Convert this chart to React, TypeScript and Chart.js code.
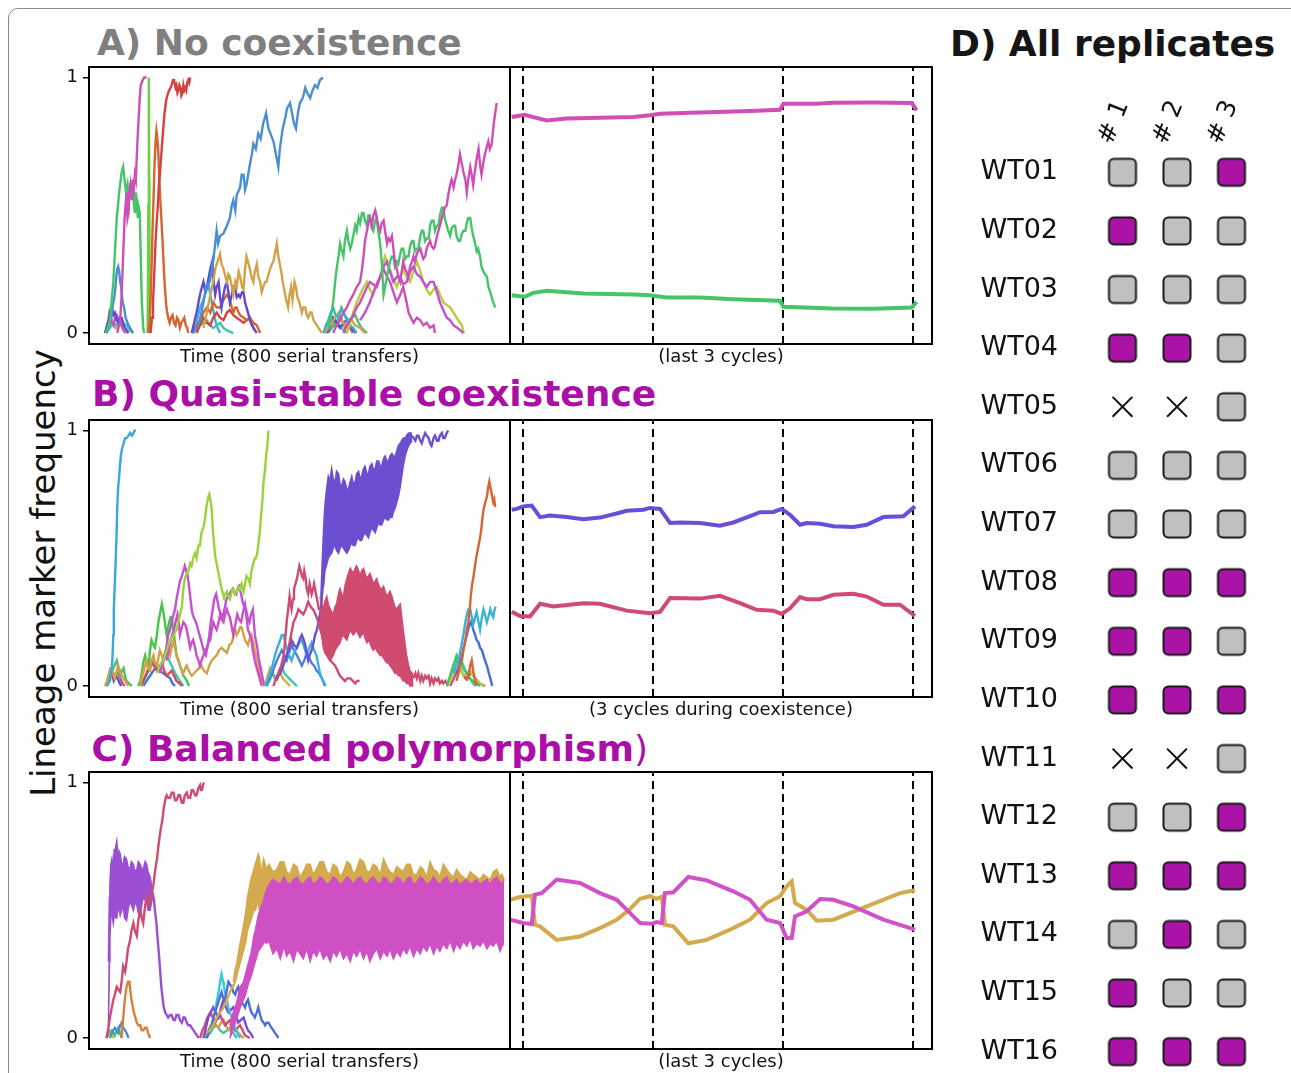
import React, { useEffect, useRef } from 'react';
import { Chart, registerables } from 'chart.js';
Chart.register(...registerables);

type P = [number, number];
const FONT = "'DejaVu Sans', sans-serif";

// ---------- axis ranges / ticks ----------
const Y_MIN = -0.043;
const Y_MAX = 1.041;
const Y_TICKS = [0, 1];
const T_MIN = -32.7;
const T_MAX = 827.2;
const C_MIN = -0.1;
const C_MAX = 3.146;
const CYCLE_MARKS = [0, 1, 2, 3];

// ---------- colours ----------
const GREEN = '#45c46a', PINK = '#cf4fb6', BLUE = '#4b8fd1', RED = '#d2433f', ORANGE = '#d8652f',
  GOLD = '#d2a24b', PURPLE = '#5e4bd2', YGREEN = '#bccb3c', LIME = '#9bd13e', CYAN = '#3cb1d8',
  CRIMSON = '#cf4b6f', ORCHID = '#c152d3', DORCHID = '#9a4fd4', TEAL = '#3cc8ac', BPURPLE = '#6c4fd0',
  CPINK = '#cf50c4', CGOLD = '#d3aa4d', MAG = '#aa10a6';

// ================= Panel A (no coexistence) =================
const A_green1: P[] = [[2,0],[10,0.05],[17,0.2],[24,0.45],[29,0.55],[34,0.63],[37,0.65],[40,0.6],[43,0.55],[46,0.58],[48,0.53],[51,0.57],[54,0.55],[57,0.6],[59,0.5],[61,0.47],[63,0.55],[65,0.52],[67,0.45],[69,0.49],[71,0.47],[73,0.3],[75,0.13],[78,0.02],[80,0]];
const A_green2: P[] = [[87,0],[88.5,0.5],[89.5,1.0],[90.2,0.6],[90.8,0]];
const A_pink1: P[] = [[25,0],[31,0.05],[34,0.15],[36,0.25],[38,0.35],[40,0.45],[42,0.5],[44,0.55],[46,0.45],[48,0.47],[50,0.55],[52,0.58],[55,0.52],[57,0.6],[59,0.57],[61,0.62],[63,0.6],[65,0.7],[67,0.78],[69,0.85],[71,0.92],[73,0.97],[75,0.98],[77,0.99],[80,1.0],[85,1.0]];
const A_blue1: P[] = [[3,0],[9,0.04],[14,0.08],[17,0.12],[20,0.15],[23,0.22],[25,0.25],[27,0.26],[29,0.24],[31,0.2],[33,0.18],[36,0.12],[39,0.1],[42,0.06],[44,0.05],[48,0.03],[51,0.02],[57,0]];
const A_purple1: P[] = [[0,0],[4,0.03],[7,0.05],[10,0.09],[14,0.1],[17,0.07],[20,0.08],[24,0.05],[27,0.04],[31,0.06],[34,0.06],[38,0.03],[41,0.02],[48,0]];
const A_orchid1: P[] = [[2,0],[6,0.04],[10,0.06],[14,0.04],[17,0.03],[21,0.06],[24,0.07],[28,0.05],[32,0.04],[36,0.02],[41,0]];
const A_teal1: P[] = [[3,0],[10,0.02],[17,0.04],[24,0.03],[31,0.06],[37,0.04],[44,0.03],[51,0.01],[58,0]];
const A_gold1: P[] = [[1,0],[8,0.03],[15,0.05],[22,0.02],[30,0.04],[38,0.01],[45,0]];
const A_red1: P[] = [[93,0],[96,0.06],[98,0.12],[101,0.25],[103,0.35],[106,0.45],[108,0.5],[110,0.58],[112,0.62],[115,0.7],[117,0.75],[119,0.8],[121,0.85],[124,0.9],[126,0.92],[129,0.94],[131,0.95],[134,0.96],[136,0.97],[139,0.99],[141,0.99],[144,0.96],[146,0.97],[148,0.94],[150,0.95],[152,0.97],[154,0.96],[156,0.93],[158,0.94],[160,0.97],[162,0.95],[164,0.96],[166,0.95],[168,0.98],[170,0.99],[172,0.98],[174,1.0]];
const A_orange1: P[] = [[88,0],[91,0.04],[93,0.12],[95,0.25],[97,0.4],[99,0.52],[101,0.65],[103,0.74],[105,0.79],[107,0.76],[109,0.7],[111,0.6],[113,0.52],[115,0.45],[117,0.38],[119,0.3],[121,0.22],[123,0.16],[125,0.11],[127,0.08],[129,0.06],[132,0.04],[135,0.06],[138,0.07],[141,0.04],[144,0.03],[147,0.06],[150,0.05],[153,0.02],[156,0.04],[159,0.05],[162,0.06],[165,0.03],[168,0.02],[170,0]];
const A_blue2: P[] = [[180,0],[187,0.02],[194,0.05],[201,0.12],[208,0.19],[214,0.2],[221,0.28],[228,0.4],[231,0.35],[235,0.38],[242,0.39],[249,0.42],[255,0.45],[259,0.5],[262,0.52],[266,0.48],[269,0.54],[276,0.57],[279,0.62],[283,0.62],[286,0.56],[289,0.58],[295,0.65],[300,0.7],[303,0.74],[308,0.72],[313,0.78],[318,0.76],[323,0.82],[329,0.86],[334,0.8],[338,0.78],[344,0.75],[349,0.7],[354,0.65],[357,0.72],[363,0.8],[368,0.84],[372,0.88],[378,0.9],[382,0.86],[386,0.82],[390,0.8],[394,0.86],[398,0.9],[404,0.92],[409,0.96],[413,0.94],[419,0.92],[424,0.95],[429,0.97],[434,0.96],[439,0.99],[445,1.0]];
const A_gold2: P[] = [[201,0.02],[208,0.08],[215,0.15],[221,0.2],[225,0.25],[230,0.28],[235,0.31],[238,0.27],[242,0.25],[246,0.22],[249,0.2],[252,0.23],[255,0.22],[259,0.18],[262,0.15],[266,0.2],[269,0.18],[273,0.24],[276,0.22],[280,0.18],[283,0.17],[286,0.25],[289,0.3],[292,0.28],[296,0.25],[299,0.22],[303,0.2],[306,0.24],[310,0.27],[313,0.22],[317,0.2],[320,0.16],[323,0.18],[327,0.2],[330,0.2],[334,0.23],[337,0.25],[341,0.27],[344,0.28],[348,0.32],[351,0.35],[354,0.3],[356,0.28],[360,0.24],[363,0.2],[367,0.16],[370,0.13],[374,0.1],[377,0.15],[380,0.18],[383,0.13],[387,0.2],[390,0.18],[393,0.14],[397,0.12],[402,0.08],[405,0.1],[409,0.1],[412,0.07],[415,0.06],[419,0.08],[422,0.08],[426,0.05],[429,0.04],[433,0.03],[436,0.02],[443,0]];
const A_purple2: P[] = [[177,0],[182,0.04],[187,0.08],[191,0.12],[194,0.15],[198,0.18],[201,0.2],[205,0.16],[208,0.18],[212,0.22],[215,0.25],[219,0.28],[222,0.2],[225,0.15],[228,0.18],[232,0.2],[235,0.14],[238,0.1],[242,0.15],[245,0.18],[249,0.2],[252,0.16],[255,0.12],[259,0.15],[262,0.18],[266,0.17],[269,0.14],[273,0.15],[276,0.14],[280,0.16],[283,0.16],[286,0.12],[289,0.1],[292,0.08],[296,0.05],[300,0.03],[303,0.02],[310,0]];
const A_orange2: P[] = [[180,0],[187,0.03],[194,0.05],[201,0.08],[208,0.1],[215,0.08],[221,0.12],[228,0.1],[235,0.1],[242,0.13],[249,0.15],[255,0.13],[259,0.1],[262,0.08],[266,0.1],[269,0.1],[273,0.08],[276,0.07],[283,0.06],[289,0.05],[296,0.06],[303,0.04],[310,0.03],[317,0]];
const A_red2: P[] = [[187,0],[194,0.03],[201,0.06],[208,0.04],[215,0.03],[221,0.06],[228,0.08],[235,0.06],[242,0.05],[249,0.08],[255,0.09],[262,0.07],[269,0.06],[276,0.05],[283,0.04],[289,0.05],[296,0.06],[301,0.03],[306,0.01]];
const A_teal2: P[] = [[177,0],[185,0.02],[194,0.03],[201,0.04],[208,0.05],[215,0.03],[221,0.02],[228,0.03],[235,0.04],[242,0.02],[249,0.01],[262,0]];
const A_cyan2: P[] = [[180,0],[187,0.04],[194,0.1],[199,0.12],[204,0.15],[208,0.17],[211,0.2],[214,0.16],[218,0.12],[222,0.08],[225,0.05],[230,0.02],[235,0]];
const A_green3: P[] = [[456,0.02],[461,0.06],[466,0.12],[470,0.2],[473,0.25],[477,0.3],[480,0.35],[484,0.32],[487,0.3],[490,0.36],[494,0.4],[497,0.36],[501,0.33],[504,0.35],[507,0.38],[511,0.42],[514,0.4],[518,0.45],[521,0.43],[525,0.47],[528,0.47],[531,0.44],[535,0.42],[538,0.46],[541,0.46],[545,0.41],[548,0.4],[552,0.44],[555,0.45],[558,0.4],[562,0.35],[565,0.28],[569,0.15],[572,0.18],[576,0.22],[579,0.25],[582,0.28],[586,0.3],[589,0.3],[592,0.26],[596,0.28],[599,0.27],[603,0.31],[606,0.33],[609,0.33],[613,0.29],[616,0.3],[620,0.3],[623,0.34],[627,0.36],[630,0.36],[633,0.32],[637,0.33],[640,0.33],[644,0.38],[647,0.4],[650,0.4],[654,0.36],[657,0.37],[661,0.37],[664,0.42],[667,0.44],[671,0.44],[674,0.4],[678,0.42],[681,0.42],[684,0.46],[688,0.49],[691,0.49],[694,0.45],[698,0.42],[701,0.4],[705,0.38],[708,0.41],[712,0.42],[715,0.42],[718,0.38],[722,0.36],[725,0.36],[729,0.39],[732,0.4],[736,0.4],[739,0.43],[742,0.45],[746,0.45],[749,0.41],[752,0.38],[756,0.35],[759,0.32],[762,0.33],[766,0.3],[769,0.26],[773,0.24],[776,0.23],[780,0.22],[783,0.18],[787,0.16],[790,0.14],[793,0.12],[797,0.1]];
const A_pink3: P[] = [[466,0],[473,0.03],[480,0.05],[487,0.08],[494,0.1],[501,0.13],[507,0.15],[514,0.18],[521,0.2],[525,0.25],[528,0.3],[531,0.36],[535,0.4],[538,0.43],[541,0.45],[545,0.42],[548,0.46],[552,0.48],[555,0.45],[558,0.42],[562,0.4],[565,0.43],[569,0.44],[572,0.4],[576,0.35],[579,0.37],[582,0.36],[586,0.38],[589,0.33],[592,0.28],[596,0.25],[599,0.22],[603,0.2],[606,0.24],[609,0.28],[613,0.25],[616,0.24],[620,0.22],[623,0.26],[627,0.28],[630,0.3],[633,0.28],[637,0.31],[640,0.32],[644,0.33],[647,0.31],[650,0.29],[654,0.3],[657,0.33],[661,0.35],[664,0.36],[667,0.34],[671,0.33],[674,0.34],[678,0.38],[681,0.4],[684,0.42],[688,0.45],[691,0.47],[694,0.49],[698,0.5],[701,0.54],[705,0.58],[708,0.6],[712,0.57],[715,0.6],[718,0.62],[722,0.66],[725,0.7],[729,0.66],[732,0.63],[736,0.6],[739,0.55],[742,0.6],[746,0.65],[749,0.62],[752,0.58],[756,0.64],[759,0.68],[763,0.72],[766,0.66],[769,0.62],[773,0.67],[776,0.7],[780,0.73],[783,0.75],[786,0.72],[790,0.74],[794,0.82],[797,0.86],[800,0.9]];
const A_pink4: P[] = [[487,0],[494,0.03],[501,0.05],[507,0.07],[514,0.1],[521,0.12],[528,0.15],[535,0.18],[541,0.2],[548,0.19],[555,0.18],[562,0.22],[569,0.25],[576,0.22],[582,0.2],[589,0.16],[596,0.12],[603,0.15],[609,0.18],[616,0.12],[620,0.08],[625,0.06],[630,0.04],[637,0.06],[644,0.05],[650,0.03],[657,0.04],[664,0.02],[671,0.03],[674,0]];
const A_pink5: P[] = [[521,0.05],[531,0.08],[541,0.12],[552,0.18],[562,0.22],[569,0.26],[576,0.28],[582,0.24],[589,0.2],[596,0.22],[603,0.22],[609,0.19],[616,0.2],[623,0.24],[630,0.26],[637,0.23],[644,0.22],[650,0.2],[657,0.18],[664,0.2],[671,0.2],[678,0.16],[684,0.12],[691,0.09],[698,0.06],[705,0.05],[712,0.03],[720,0.02],[732,0]];
const A_ygreen: P[] = [[494,0],[501,0.04],[507,0.08],[514,0.12],[521,0.15],[528,0.18],[535,0.2],[541,0.17],[548,0.15],[555,0.19],[562,0.22],[569,0.28],[572,0.3],[576,0.27],[582,0.25],[589,0.21],[596,0.18],[603,0.22],[609,0.25],[616,0.22],[623,0.2],[630,0.24],[637,0.28],[644,0.24],[650,0.2],[657,0.17],[664,0.15],[671,0.17],[678,0.18],[684,0.15],[691,0.12],[698,0.11],[705,0.1],[712,0.08],[718,0.06],[725,0.04],[729,0.03],[733,0]];
const A_small1: P[] = [[446,0],[451,0.03],[456,0.05],[461,0.08],[466,0.1],[471,0.07],[477,0.06],[482,0.09],[487,0.08],[494,0.05],[501,0.03],[507,0.02],[514,0]];
const A_small2: P[] = [[449,0],[456,0.02],[463,0.04],[470,0.06],[477,0.08],[483,0.05],[490,0.03],[497,0.05],[504,0.05],[511,0.03],[521,0.02],[531,0]];
const A_small3: P[] = [[453,0],[460,0.03],[466,0.06],[473,0.04],[480,0.02],[487,0.04],[494,0.05],[501,0.03],[507,0.01],[512,0]];
const A_small4: P[] = [[456,0],[463,0.02],[470,0.03],[477,0.06],[483,0.1],[490,0.07],[497,0.05],[504,0.06],[511,0.07],[518,0.04],[524,0.02],[535,0]];
const A_small5: P[] = [[450,0],[458,0.02],[466,0.05],[474,0.03],[482,0.06],[490,0.02],[498,0.03],[506,0]];
const A_small6: P[] = [[447,0],[455,0.04],[463,0.02],[471,0.05],[479,0.03],[487,0.01],[495,0]];

const A_R_pink: P[] = [[-0.087,0.845],[0.015,0.854],[0.079,0.845],[0.182,0.832],[0.336,0.839],[0.592,0.842],[0.849,0.845],[0.977,0.852],[1.054,0.858],[1.233,0.861],[1.49,0.865],[1.746,0.869],[1.977,0.874],[2.003,0.897],[2.259,0.897],[2.387,0.901],[2.695,0.902],[2.99,0.9],[3.028,0.871]];
const A_R_green: P[] = [[-0.087,0.148],[0.015,0.142],[0.079,0.157],[0.182,0.165],[0.464,0.155],[0.849,0.151],[0.977,0.148],[1.105,0.139],[1.362,0.139],[1.618,0.132],[1.977,0.126],[2.003,0.103],[2.387,0.096],[2.695,0.095],[2.99,0.1],[3.028,0.122]];

// ================= Panel B (quasi-stable coexistence) =================
const B_cyan1: P[] = [[3,0],[7,0.01],[10,0.02],[13,0.06],[15,0.1],[17,0.2],[18,0.3],[20,0.4],[22,0.5],[24,0.62],[25,0.7],[27,0.78],[29,0.82],[31,0.88],[32,0.9],[35,0.93],[38,0.95],[41,0.97],[44,0.97],[48,0.98],[51,0.99],[55,0.98],[58,0.99],[61,1.0],[63,1.0]];
const B_e1: P[] = [[0,0],[4,0.02],[7,0.04],[10,0.06],[14,0.07],[17,0.05],[20,0.03],[24,0.06],[27,0.08],[31,0.06],[34,0.04],[38,0.03],[41,0.02],[48,0]];
const B_e2: P[] = [[3,0],[8,0.02],[14,0.05],[19,0.08],[24,0.1],[28,0.06],[31,0.04],[35,0.06],[38,0.07],[42,0.03],[44,0.02],[55,0]];
const B_e3: P[] = [[2,0],[6,0.03],[10,0.06],[14,0.04],[18,0.03],[22,0.05],[27,0.05],[31,0.03],[36,0.01],[40,0]];
const B_e4: P[] = [[4,0],[9,0.03],[13,0.05],[18,0.02],[23,0.04],[28,0.02],[33,0]];
const B_green: P[] = [[68,0],[72,0.02],[75,0.05],[78,0.09],[82,0.12],[85,0.1],[89,0.08],[92,0.14],[95,0.18],[99,0.16],[102,0.15],[106,0.2],[109,0.25],[112,0.28],[116,0.32],[118,0.3],[120,0.28],[123,0.24],[126,0.2],[129,0.23],[131,0.25],[134,0.27],[136,0.27],[139,0.23],[141,0.2],[144,0.15],[146,0.12],[150,0.1],[153,0.08],[157,0.06],[160,0.04],[164,0.03],[167,0.02],[172,0]];
const B_lime: P[] = [[106,0.05],[112,0.08],[119,0.1],[126,0.14],[133,0.18],[140,0.2],[146,0.22],[150,0.25],[153,0.28],[157,0.31],[160,0.38],[163,0.42],[167,0.44],[170,0.45],[174,0.48],[177,0.47],[180,0.5],[184,0.52],[187,0.5],[191,0.55],[194,0.55],[197,0.6],[201,0.62],[204,0.65],[207,0.7],[209,0.72],[211,0.74],[213,0.75],[216,0.72],[218,0.69],[220,0.62],[223,0.55],[225,0.51],[228,0.48],[231,0.45],[233,0.43],[236,0.4],[238,0.38],[241,0.36],[243,0.35],[246,0.36],[249,0.37],[252,0.35],[255,0.34],[259,0.37],[262,0.38],[265,0.36],[269,0.37],[272,0.39],[276,0.38],[279,0.4],[283,0.37],[286,0.4],[289,0.43],[293,0.42],[296,0.4],[299,0.45],[303,0.48],[306,0.5],[308,0.5],[311,0.52],[313,0.55],[316,0.6],[318,0.65],[320,0.69],[322,0.74],[323,0.78],[325,0.82],[327,0.85],[329,0.9],[331,0.93],[334,1.0]];
const B_orchid1: P[] = [[112,0.05],[118,0.09],[123,0.12],[126,0.16],[129,0.2],[133,0.22],[136,0.25],[140,0.28],[143,0.3],[146,0.34],[150,0.38],[153,0.41],[157,0.43],[160,0.45],[163,0.47],[166,0.45],[168,0.44],[171,0.4],[174,0.35],[177,0.3],[179,0.28],[183,0.26],[186,0.25],[190,0.22],[193,0.2],[196,0.18],[200,0.15],[203,0.13],[206,0.12],[210,0.16],[213,0.2],[216,0.25],[220,0.3],[223,0.34],[227,0.36],[230,0.33],[233,0.3],[237,0.28],[240,0.27],[244,0.3],[247,0.33],[250,0.35],[254,0.36],[257,0.37],[261,0.38],[264,0.37],[268,0.36],[271,0.38],[274,0.39],[278,0.36],[281,0.33],[284,0.31],[288,0.3],[291,0.27],[295,0.25],[298,0.28],[302,0.3],[304,0.25],[306,0.2],[309,0.17],[311,0.15],[314,0.11],[317,0.08],[320,0.05],[323,0.02],[327,0]];
const B_orchid2: P[] = [[126,0.1],[130,0.14],[134,0.18],[137,0.2],[141,0.22],[144,0.25],[148,0.28],[151,0.24],[153,0.2],[157,0.23],[160,0.25],[164,0.24],[167,0.22],[171,0.18],[174,0.15],[177,0.17],[180,0.18],[184,0.15],[187,0.12],[191,0.1],[194,0.08],[197,0.1],[201,0.12],[204,0.14],[208,0.15],[211,0.17],[215,0.18],[218,0.22],[221,0.25],[225,0.23],[228,0.22],[232,0.25],[235,0.28],[238,0.26],[242,0.25],[245,0.28],[249,0.3],[252,0.28],[255,0.27],[259,0.23],[262,0.2],[266,0.24],[270,0.28],[274,0.26],[278,0.25],[282,0.29],[286,0.32],[289,0.27],[292,0.22],[296,0.2],[299,0.18],[302,0.14],[306,0.1],[310,0.07],[313,0.05],[317,0.02],[320,0]];
const B_gold: P[] = [[72,0],[75,0.03],[78,0.05],[82,0.08],[85,0.1],[88,0.07],[92,0.06],[95,0.1],[99,0.12],[102,0.09],[106,0.08],[109,0.11],[112,0.14],[116,0.12],[119,0.1],[122,0.13],[126,0.15],[129,0.14],[133,0.12],[136,0.15],[140,0.18],[143,0.15],[146,0.12],[150,0.1],[153,0.08],[157,0.06],[160,0.05],[164,0.07],[167,0.08],[171,0.06],[177,0.04],[182,0.05],[187,0.06],[192,0.07],[197,0.08],[202,0.06],[208,0.05],[213,0.08],[218,0.1],[223,0.11],[228,0.12],[233,0.14],[238,0.15],[243,0.14],[249,0.13],[254,0.16],[259,0.17],[263,0.2],[266,0.22],[269,0.2],[272,0.21],[276,0.23],[279,0.23],[283,0.2],[286,0.18],[289,0.17],[292,0.16],[296,0.19],[299,0.2],[303,0.17],[306,0.14],[310,0.11],[313,0.08],[317,0.05],[320,0.03],[325,0]];
const B_red1: P[] = [[72,0],[78,0.02],[85,0.05],[90,0.08],[95,0.1],[100,0.08],[106,0.06],[111,0.08],[116,0.09],[121,0.06],[126,0.04],[131,0.05],[136,0.06],[141,0.04],[146,0.02],[152,0.01],[157,0]];
const B_teal1: P[] = [[75,0],[82,0.03],[89,0.06],[95,0.08],[99,0.1],[105,0.08],[112,0.07],[118,0.1],[126,0.12],[131,0.1],[136,0.08],[141,0.06],[146,0.04],[153,0.02],[160,0]];
const B_blue1: P[] = [[78,0],[85,0.02],[92,0.04],[99,0.06],[106,0.08],[112,0.06],[119,0.05],[126,0.04],[133,0.03],[138,0.01],[143,0]];
const B_cyan2: P[] = [[327,0],[332,0.02],[337,0.05],[342,0.08],[347,0.12],[352,0.15],[358,0.18],[361,0.2],[365,0.2],[368,0.17],[371,0.15],[376,0.12],[381,0.1],[386,0.13],[392,0.15],[397,0.17],[402,0.18],[407,0.15],[412,0.12],[417,0.15],[422,0.17],[427,0.14],[432,0.12],[436,0.08],[439,0.05],[443,0.03],[446,0.02],[451,0]];
const B_blue2: P[] = [[330,0],[335,0.02],[340,0.04],[345,0.07],[351,0.1],[356,0.12],[361,0.14],[366,0.12],[371,0.1],[376,0.13],[381,0.16],[386,0.14],[392,0.12],[397,0.1],[402,0.08],[407,0.1],[412,0.13],[417,0.11],[422,0.09],[427,0.08],[432,0.06],[437,0.05],[443,0.03],[449,0]];
const B_purple2: P[] = [[350,0.02],[354,0.04],[358,0.05],[364,0.08],[371,0.12],[376,0.15],[381,0.18],[386,0.16],[392,0.15],[397,0.18],[402,0.2],[406,0.18],[409,0.16],[412,0.13],[415,0.1],[418,0.12],[422,0.14],[426,0.17],[429,0.2],[433,0.22],[436,0.25],[439,0.28],[441,0.3]];
const B_teal2: P[] = [[330,0],[335,0.03],[340,0.06],[345,0.04],[351,0.03],[356,0.06],[361,0.08],[366,0.05],[371,0.04],[376,0.03],[381,0.02],[392,0]];
const B_gold2: P[] = [[327,0],[332,0.04],[337,0.07],[342,0.05],[347,0.03],[352,0.04],[358,0.05],[363,0.03],[368,0.02],[378,0]];
const B_crimson1: P[] = [[344,0],[349,0.03],[354,0.05],[360,0.08],[365,0.12],[368,0.18],[371,0.25],[374,0.3],[377,0.35],[379,0.32],[381,0.3],[384,0.34],[386,0.38],[389,0.4],[392,0.42],[395,0.45],[397,0.47],[400,0.45],[402,0.43],[405,0.42],[407,0.45],[410,0.42],[412,0.38],[415,0.36],[418,0.4],[420,0.38],[422,0.36],[425,0.38],[427,0.4],[430,0.37],[432,0.35],[435,0.32],[437,0.3],[439,0.3]];
const B_crimson2: P[] = [[375,0.15],[380,0.2],[385,0.25],[390,0.27],[395,0.3],[400,0.29],[405,0.28],[410,0.3],[415,0.33],[420,0.31],[425,0.3],[430,0.28],[436,0.25],[440,0.22],[443,0.2],[446,0.17],[449,0.15],[454,0.12],[460,0.1],[465,0.09],[470,0.08],[475,0.06],[480,0.04],[485,0.03],[490,0.02],[495,0.03],[501,0.03],[506,0.02],[511,0.01],[515,0.02],[520,0.02]];
const B_crimsonBandHi: P[] = [[439,0.35],[443,0.32],[446,0.3],[449,0.33],[453,0.35],[456,0.32],[460,0.3],[463,0.29],[466,0.28],[470,0.31],[473,0.32],[477,0.36],[480,0.38],[483,0.36],[487,0.35],[490,0.39],[494,0.42],[497,0.44],[501,0.46],[504,0.45],[507,0.44],[511,0.46],[514,0.47],[518,0.45],[521,0.43],[524,0.45],[528,0.46],[531,0.44],[535,0.42],[538,0.43],[541,0.44],[545,0.42],[548,0.4],[552,0.41],[555,0.42],[558,0.4],[562,0.38],[565,0.38],[569,0.39],[572,0.37],[576,0.35],[579,0.36],[582,0.37],[586,0.35],[589,0.33],[592,0.31],[596,0.3],[599,0.31],[603,0.32],[606,0.27],[609,0.22],[613,0.16],[616,0.12],[620,0.08],[623,0.06],[627,0.05],[630,0.04]];
const B_crimsonBandLo: P[] = [[439,0.25],[443,0.2],[446,0.15],[449,0.13],[453,0.12],[456,0.11],[460,0.1],[463,0.11],[466,0.12],[470,0.14],[473,0.15],[477,0.16],[480,0.17],[483,0.19],[487,0.2],[490,0.19],[494,0.18],[497,0.2],[501,0.22],[504,0.21],[507,0.2],[511,0.21],[514,0.22],[518,0.2],[521,0.19],[524,0.2],[528,0.21],[531,0.19],[535,0.17],[538,0.18],[541,0.17],[545,0.15],[548,0.14],[552,0.15],[555,0.14],[558,0.13],[562,0.12],[565,0.12],[569,0.11],[572,0.1],[576,0.09],[579,0.09],[582,0.08],[586,0.07],[589,0.06],[592,0.05],[596,0.05],[599,0.04],[603,0.04],[606,0.03],[609,0.02],[613,0.02],[616,0.01],[620,0.01],[623,0],[627,0],[630,0]];
const B_crimsonTail: P[] = [[630,0.03],[634,0.05],[637,0.03],[640,0.05],[644,0.02],[647,0.04],[650,0.02],[654,0.04],[657,0.03],[661,0.04],[664,0.01],[667,0.03],[671,0.01],[674,0.03],[678,0.02],[681,0.03],[684,0.01],[688,0.02],[691,0.01],[695,0.02],[701,0]];
const B_purpleBandHi: P[] = [[441,0.35],[443,0.45],[445,0.55],[447,0.63],[449,0.7],[452,0.76],[456,0.82],[459,0.8],[463,0.85],[466,0.81],[470,0.8],[473,0.84],[477,0.83],[480,0.79],[483,0.78],[487,0.81],[490,0.8],[494,0.77],[497,0.77],[501,0.8],[504,0.82],[507,0.79],[511,0.8],[514,0.83],[518,0.84],[521,0.81],[524,0.82],[528,0.85],[531,0.86],[535,0.83],[538,0.83],[541,0.86],[545,0.87],[548,0.85],[552,0.85],[555,0.88],[559,0.88],[562,0.86],[565,0.86],[569,0.89],[572,0.9],[576,0.88],[579,0.88],[582,0.9],[586,0.91],[589,0.9],[593,0.9],[596,0.92],[599,0.94],[603,0.95],[606,0.96],[609,0.97],[613,0.97],[616,0.98],[620,0.99],[623,0.99],[627,0.99]];
const B_purpleBandLo: P[] = [[441,0.3],[443,0.33],[445,0.38],[447,0.4],[449,0.45],[452,0.47],[456,0.5],[459,0.51],[463,0.52],[466,0.54],[470,0.55],[473,0.53],[477,0.52],[480,0.54],[483,0.55],[487,0.54],[490,0.53],[494,0.52],[497,0.53],[501,0.55],[504,0.56],[507,0.55],[511,0.55],[514,0.57],[518,0.58],[521,0.57],[524,0.57],[528,0.59],[531,0.6],[535,0.59],[538,0.58],[541,0.6],[545,0.62],[548,0.61],[552,0.6],[555,0.62],[559,0.64],[562,0.63],[565,0.63],[569,0.65],[572,0.66],[576,0.65],[579,0.65],[582,0.66],[586,0.66],[589,0.68],[593,0.7],[596,0.72],[599,0.74],[603,0.78],[606,0.82],[609,0.86],[613,0.9],[616,0.92],[620,0.94],[623,0.95],[627,0.96]];
const B_purpleTail: P[] = [[627,0.98],[630,0.97],[634,0.96],[637,0.98],[640,0.98],[644,0.96],[647,0.95],[650,0.97],[654,0.99],[657,0.98],[661,0.97],[664,0.95],[667,0.94],[671,0.97],[674,0.98],[678,0.96],[681,0.96],[684,0.98],[688,0.99],[691,0.97],[694,0.97],[698,0.99],[701,1.0]];
const B_orange3: P[] = [[718,0.02],[722,0.05],[725,0.08],[729,0.1],[732,0.14],[736,0.18],[739,0.22],[742,0.25],[745,0.3],[747,0.35],[750,0.4],[752,0.42],[755,0.46],[758,0.5],[760,0.52],[763,0.55],[766,0.58],[769,0.62],[771,0.66],[774,0.7],[777,0.72],[780,0.74],[782,0.77],[785,0.8],[787,0.78],[789,0.76],[791,0.74],[793,0.72],[795,0.73],[797,0.7]];
const B_cyan3: P[] = [[712,0.05],[717,0.08],[722,0.1],[727,0.15],[732,0.2],[736,0.25],[739,0.28],[742,0.3],[746,0.3],[749,0.27],[752,0.24],[756,0.27],[759,0.29],[763,0.25],[766,0.22],[769,0.26],[773,0.3],[776,0.28],[780,0.25],[783,0.27],[787,0.3],[790,0.28],[793,0.27],[796,0.3],[798,0.31]];
const B_blue3: P[] = [[718,0.05],[724,0.08],[729,0.12],[734,0.16],[739,0.2],[743,0.23],[747,0.25],[750,0.24],[752,0.22],[756,0.2],[759,0.18],[763,0.17],[766,0.15],[770,0.14],[773,0.12],[776,0.1],[780,0.08],[784,0.05],[787,0.03],[791,0]];
const B_orange4: P[] = [[739,0.02],[743,0.05],[746,0.08],[749,0.1],[752,0.06],[756,0.02],[759,0]];
const B_r1: P[] = [[698,0],[703,0.03],[708,0.06],[713,0.09],[718,0.12],[723,0.1],[729,0.08],[734,0.06],[739,0.05],[745,0.03],[752,0.02],[760,0.01],[766,0]];
const B_r2: P[] = [[701,0],[707,0.03],[712,0.05],[717,0.07],[722,0.08],[727,0.06],[732,0.04],[739,0.05],[746,0.06],[752,0.04],[759,0.02],[766,0.01],[773,0]];
const B_r3: P[] = [[705,0],[710,0.02],[715,0.04],[720,0.06],[725,0.07],[730,0.05],[736,0.03],[742,0.04],[749,0.05],[756,0.03],[766,0.01],[776,0]];
const B_r4: P[] = [[700,0],[706,0.04],[712,0.08],[718,0.1],[724,0.07],[730,0.09],[736,0.06],[742,0.04],[748,0.02],[756,0]];

const B_R_purple: P[] = [[-0.087,0.69],[-0.049,0.693],[0.003,0.703],[0.067,0.706],[0.131,0.661],[0.208,0.667],[0.336,0.661],[0.464,0.653],[0.592,0.659],[0.721,0.675],[0.797,0.686],[0.926,0.69],[0.977,0.697],[1.054,0.693],[1.131,0.638],[1.208,0.64],[1.362,0.638],[1.515,0.627],[1.618,0.64],[1.772,0.67],[1.823,0.68],[1.926,0.681],[1.99,0.693],[2.054,0.67],[2.131,0.631],[2.182,0.638],[2.285,0.635],[2.387,0.625],[2.541,0.622],[2.644,0.631],[2.772,0.661],[2.926,0.664],[3.015,0.703]];
const B_R_crimson: P[] = [[-0.087,0.291],[-0.023,0.274],[0.054,0.272],[0.131,0.322],[0.233,0.311],[0.464,0.324],[0.592,0.322],[0.797,0.295],[0.977,0.285],[1.054,0.29],[1.131,0.344],[1.362,0.342],[1.515,0.353],[1.669,0.324],[1.797,0.298],[1.926,0.295],[1.99,0.282],[2.054,0.304],[2.131,0.348],[2.182,0.34],[2.285,0.34],[2.387,0.357],[2.541,0.361],[2.644,0.35],[2.772,0.318],[2.9,0.318],[3.015,0.274]];

// ================= Panel C (balanced polymorphism) =================
const C_purpleBandHi: P[] = [[7,0.3],[9,0.55],[10,0.6],[12,0.68],[14,0.7],[16,0.66],[17,0.68],[19,0.74],[20,0.72],[22,0.75],[24,0.77],[26,0.72],[27,0.7],[29,0.73],[31,0.72],[34,0.68],[37,0.68],[40,0.71],[44,0.7],[47,0.67],[51,0.66],[54,0.69],[58,0.68],[61,0.65],[65,0.66],[68,0.69],[72,0.68],[75,0.66],[78,0.66],[82,0.69],[85,0.68],[88,0.65],[92,0.63],[95,0.6],[97,0.58]];
const C_purpleBandLo: P[] = [[7,0.05],[9,0.3],[10,0.4],[12,0.48],[14,0.5],[16,0.46],[17,0.45],[19,0.49],[20,0.5],[22,0.47],[24,0.47],[26,0.51],[27,0.53],[29,0.5],[31,0.48],[34,0.5],[37,0.52],[40,0.47],[44,0.46],[47,0.5],[51,0.54],[54,0.52],[58,0.5],[61,0.53],[65,0.52],[68,0.49],[72,0.48],[75,0.52],[78,0.55],[82,0.54],[85,0.53],[88,0.5],[92,0.5],[95,0.53],[97,0.55]];
const C_purpleTail: P[] = [[97,0.57],[100,0.54],[102,0.5],[105,0.45],[107,0.4],[110,0.33],[112,0.28],[115,0.2],[118,0.15],[120,0.12],[123,0.1],[126,0.09],[129,0.08],[133,0.09],[136,0.09],[140,0.07],[143,0.07],[146,0.09],[150,0.09],[153,0.07],[157,0.06],[160,0.08],[163,0.08],[167,0.06],[170,0.05],[174,0.05],[177,0.04],[181,0.03],[184,0.02],[188,0.01],[191,0]];
const C_crimson: P[] = [[3,0],[7,0.04],[10,0.08],[14,0.12],[17,0.15],[20,0.17],[24,0.2],[27,0.19],[31,0.18],[34,0.22],[37,0.28],[41,0.26],[44,0.3],[47,0.35],[51,0.38],[54,0.42],[58,0.45],[61,0.42],[65,0.4],[68,0.46],[72,0.5],[75,0.47],[78,0.45],[82,0.52],[85,0.55],[88,0.53],[92,0.52],[95,0.56],[99,0.6],[102,0.65],[106,0.7],[109,0.75],[111,0.78],[114,0.82],[117,0.85],[120,0.9],[122,0.92],[124,0.94],[126,0.95],[129,0.94],[133,0.94],[136,0.96],[140,0.96],[143,0.93],[146,0.93],[150,0.95],[153,0.95],[157,0.92],[160,0.92],[163,0.95],[167,0.96],[170,0.94],[174,0.94],[177,0.97],[180,0.97],[184,0.95],[187,0.95],[191,0.98],[194,0.99],[196,0.97],[198,0.97],[200,0.99],[202,1.0]];
const C_orange: P[] = [[34,0],[36,0.05],[39,0.12],[41,0.16],[44,0.2],[47,0.22],[50,0.22],[52,0.18],[54,0.15],[57,0.12],[59,0.1],[62,0.08],[65,0.06],[68,0.05],[72,0.05],[75,0.03],[78,0.03],[82,0.04],[85,0.04],[88,0.02],[92,0]];
const C_e1: P[] = [[10,0],[14,0.02],[17,0.03],[20,0.04],[24,0.03],[27,0.02],[31,0.05],[34,0.06],[37,0.04],[41,0.03],[44,0.02],[48,0]];
const C_e2: P[] = [[3,0],[7,0.02],[10,0.03],[14,0.03],[17,0.02],[20,0.01],[24,0.03],[27,0.04],[31,0.02],[34,0]];
const C_e3: P[] = [[2,0],[6,0.01],[10,0.02],[14,0.01],[18,0]];
const C_blue: P[] = [[208,0],[213,0.03],[218,0.05],[223,0.09],[228,0.12],[233,0.15],[238,0.18],[241,0.16],[245,0.15],[249,0.19],[252,0.22],[255,0.21],[259,0.2],[262,0.18],[266,0.17],[269,0.19],[272,0.2],[276,0.17],[279,0.14],[283,0.13],[286,0.12],[289,0.14],[292,0.15],[296,0.12],[299,0.1],[303,0.09],[306,0.08],[310,0.1],[313,0.12],[317,0.09],[320,0.07],[324,0.06],[327,0.05],[330,0.06],[334,0.06],[337,0.05],[340,0.04],[344,0.03],[347,0.02],[351,0.01],[354,0]];
const C_cyan: P[] = [[208,0],[213,0.03],[218,0.05],[221,0.08],[225,0.1],[228,0.14],[232,0.18],[235,0.22],[238,0.25],[241,0.22],[243,0.2],[246,0.17],[249,0.15],[252,0.12],[255,0.1],[259,0.08],[262,0.06],[266,0.04],[269,0.03],[272,0.01],[276,0]];
const C_purple2: P[] = [[201,0],[206,0.04],[211,0.08],[216,0.1],[221,0.12],[226,0.1],[232,0.08],[237,0.12],[242,0.15],[247,0.12],[252,0.1],[257,0.11],[262,0.12],[267,0.09],[272,0.06],[277,0.07],[283,0.08],[288,0.05],[292,0.03],[297,0.02],[303,0]];
const C_pink2: P[] = [[194,0],[199,0.03],[204,0.05],[209,0.08],[215,0.1],[220,0.08],[225,0.06],[230,0.08],[235,0.09],[240,0.07],[245,0.05],[250,0.06],[255,0.07],[261,0.05],[266,0.03],[271,0.04],[276,0.05],[281,0.03],[286,0.01],[296,0]];
const C_orange2: P[] = [[201,0],[206,0.02],[211,0.03],[216,0.05],[221,0.06],[227,0.05],[232,0.04],[237,0.06],[242,0.07],[247,0.05],[252,0.03],[257,0.04],[262,0.05],[267,0.03],[272,0.02],[283,0]];
const C_teal: P[] = [[204,0],[210,0.01],[215,0.02],[221,0.04],[228,0.05],[235,0.03],[242,0.02],[249,0.03],[255,0.04],[262,0.02],[269,0]];
const C_goldLead: P[] = [[208,0.02],[214,0.03],[221,0.05],[228,0.08],[235,0.1],[242,0.12],[249,0.15],[255,0.18],[260,0.2],[262,0.21]];
const C_goldBandHi: P[] = [[262,0.22],[266,0.27],[270,0.3],[274,0.35],[277,0.38],[281,0.42],[284,0.45],[288,0.5],[291,0.55],[294,0.58],[298,0.62],[301,0.64],[304,0.66],[307,0.68],[310,0.7],[313,0.72],[315,0.71],[318,0.66],[320,0.64],[322,0.68],[324,0.7],[327,0.68],[330,0.66],[335,0.68],[343,0.65],[351,0.66],[358,0.69],[365,0.69],[371,0.65],[378,0.64],[385,0.68],[392,0.67],[398,0.63],[405,0.65],[412,0.68],[419,0.68],[425,0.64],[432,0.66],[439,0.69],[446,0.69],[453,0.65],[460,0.64],[466,0.68],[473,0.67],[480,0.63],[487,0.65],[494,0.69],[501,0.68],[507,0.64],[514,0.66],[521,0.7],[528,0.69],[535,0.65],[541,0.65],[548,0.68],[555,0.67],[562,0.64],[569,0.7],[576,0.67],[582,0.65],[589,0.64],[596,0.67],[603,0.66],[609,0.65],[616,0.68],[623,0.68],[630,0.64],[637,0.64],[644,0.67],[650,0.66],[657,0.63],[664,0.69],[671,0.66],[678,0.65],[684,0.63],[691,0.68],[698,0.66],[705,0.64],[712,0.63],[718,0.66],[725,0.64],[732,0.63],[739,0.62],[746,0.65],[752,0.64],[759,0.63],[766,0.62],[773,0.64],[780,0.63],[787,0.62],[793,0.65],[800,0.66],[807,0.63],[811,0.64],[815,0.62]];
const C_goldBandLo: P[] = [[262,0.2],[266,0.22],[270,0.25],[274,0.28],[277,0.3],[281,0.33],[284,0.35],[288,0.38],[291,0.42],[294,0.44],[298,0.46],[301,0.48],[304,0.5],[307,0.5],[310,0.52],[313,0.54],[315,0.5],[318,0.45],[320,0.42],[322,0.4],[324,0.42],[327,0.4],[330,0.38],[335,0.4],[343,0.38],[351,0.41],[358,0.37],[365,0.4],[371,0.36],[378,0.39],[385,0.41],[392,0.37],[398,0.36],[405,0.4],[412,0.38],[419,0.41],[425,0.37],[432,0.39],[439,0.36],[446,0.4],[453,0.38],[460,0.41],[466,0.37],[473,0.39],[480,0.37],[487,0.4],[494,0.36],[501,0.39],[507,0.41],[514,0.37],[521,0.38],[528,0.4],[535,0.36],[541,0.39],[548,0.41],[555,0.37],[562,0.39],[569,0.36],[576,0.4],[582,0.38],[589,0.41],[596,0.37],[603,0.39],[609,0.4],[616,0.37],[623,0.38],[630,0.41],[637,0.38],[644,0.36],[650,0.4],[657,0.38],[664,0.41],[671,0.37],[678,0.39],[684,0.41],[691,0.38],[698,0.37],[705,0.4],[712,0.42],[718,0.39],[725,0.37],[732,0.41],[739,0.39],[746,0.38],[752,0.41],[759,0.4],[766,0.38],[773,0.42],[780,0.39],[787,0.37],[793,0.41],[800,0.39],[807,0.36],[811,0.4],[815,0.41]];
const C_pinkBandHi: P[] = [[255,0.05],[259,0.08],[262,0.1],[266,0.12],[269,0.14],[273,0.17],[276,0.2],[280,0.21],[283,0.22],[287,0.25],[291,0.28],[294,0.3],[298,0.33],[301,0.36],[304,0.4],[307,0.42],[310,0.45],[313,0.48],[317,0.5],[320,0.52],[324,0.54],[327,0.56],[330,0.58],[335,0.6],[343,0.62],[351,0.61],[358,0.6],[365,0.63],[371,0.61],[378,0.6],[385,0.62],[392,0.63],[398,0.61],[405,0.6],[412,0.62],[419,0.63],[425,0.6],[432,0.61],[439,0.63],[446,0.62],[453,0.6],[460,0.61],[466,0.63],[473,0.62],[480,0.6],[487,0.61],[494,0.63],[501,0.62],[507,0.6],[514,0.62],[521,0.63],[528,0.61],[535,0.6],[541,0.62],[548,0.63],[555,0.61],[562,0.6],[569,0.63],[576,0.62],[582,0.6],[589,0.61],[596,0.63],[603,0.62],[609,0.6],[616,0.62],[623,0.63],[630,0.6],[637,0.61],[644,0.63],[650,0.62],[657,0.6],[664,0.61],[671,0.63],[678,0.61],[684,0.6],[691,0.62],[698,0.63],[705,0.6],[712,0.61],[718,0.62],[725,0.6],[732,0.61],[739,0.62],[746,0.6],[752,0.61],[759,0.62],[766,0.6],[773,0.61],[780,0.62],[787,0.6],[793,0.62],[800,0.63],[807,0.61],[811,0.6],[815,0.62]];
const C_pinkBandLo: P[] = [[255,0],[259,0.02],[262,0.04],[266,0.06],[269,0.08],[273,0.1],[276,0.12],[280,0.14],[283,0.15],[287,0.17],[291,0.2],[294,0.22],[298,0.24],[301,0.26],[304,0.28],[307,0.3],[310,0.32],[313,0.34],[317,0.35],[320,0.36],[324,0.37],[327,0.38],[330,0.37],[335,0.38],[343,0.33],[351,0.35],[358,0.31],[365,0.36],[371,0.32],[378,0.34],[385,0.3],[392,0.35],[398,0.33],[405,0.31],[412,0.35],[419,0.3],[425,0.34],[432,0.32],[439,0.35],[446,0.31],[453,0.33],[460,0.3],[466,0.34],[473,0.32],[480,0.35],[487,0.31],[494,0.33],[501,0.3],[507,0.34],[514,0.32],[521,0.35],[528,0.31],[535,0.34],[541,0.3],[548,0.33],[555,0.35],[562,0.31],[569,0.34],[576,0.32],[582,0.35],[589,0.31],[596,0.34],[603,0.32],[609,0.35],[616,0.33],[623,0.36],[630,0.32],[637,0.35],[644,0.33],[650,0.36],[657,0.34],[664,0.37],[671,0.33],[678,0.36],[684,0.34],[691,0.37],[698,0.35],[705,0.38],[712,0.34],[718,0.37],[725,0.35],[732,0.38],[739,0.36],[746,0.39],[752,0.35],[759,0.37],[766,0.36],[773,0.38],[780,0.35],[787,0.37],[793,0.36],[800,0.38],[807,0.34],[811,0.36],[815,0.37]];

const C_R_gold: P[] = [[-0.1,0.541],[-0.023,0.552],[0.067,0.557],[0.092,0.443],[0.131,0.437],[0.259,0.384],[0.438,0.397],[0.592,0.43],[0.721,0.463],[0.823,0.505],[0.9,0.545],[0.977,0.555],[1.028,0.545],[1.067,0.552],[1.092,0.443],[1.156,0.437],[1.272,0.371],[1.413,0.384],[1.618,0.43],[1.746,0.463],[1.874,0.528],[1.977,0.555],[2.028,0.594],[2.067,0.613],[2.092,0.528],[2.182,0.502],[2.259,0.459],[2.387,0.463],[2.644,0.515],[2.9,0.567],[3.015,0.578]];
const C_R_pink: P[] = [[-0.1,0.463],[0.003,0.45],[0.067,0.446],[0.092,0.561],[0.144,0.567],[0.259,0.62],[0.438,0.607],[0.592,0.567],[0.721,0.541],[0.849,0.476],[0.9,0.45],[0.99,0.447],[1.028,0.454],[1.067,0.45],[1.092,0.567],[1.156,0.57],[1.272,0.63],[1.413,0.617],[1.618,0.574],[1.746,0.541],[1.874,0.463],[1.977,0.45],[2.028,0.391],[2.067,0.391],[2.092,0.476],[2.182,0.496],[2.285,0.544],[2.387,0.541],[2.541,0.515],[2.772,0.463],[3.015,0.424]];

// ================= Panel D (all replicates) =================
const ROWS = ['WT01','WT02','WT03','WT04','WT05','WT06','WT07','WT08','WT09','WT10','WT11','WT12','WT13','WT14','WT15','WT16'];
const REP_LABELS = ['# 1', '# 2', '# 3'];
const REP1 = ['g','m','g','m','x','g','g','m','m','m','x','g','m','g','m','m'];
const REP2 = ['g','g','g','m','x','g','g','m','m','m','x','g','m','m','g','m'];
const REP3 = ['m','g','g','g','g','g','g','m','g','m','g','m','m','g','g','m'];

// ---------- helpers ----------
const xy = (a: P[]) => a.map(([x, y]) => ({ x, y }));
const L = (a: P[], color: string, w = 2.4) => ({
  data: xy(a), borderColor: color, backgroundColor: color, borderWidth: w,
  pointRadius: 0, fill: false, tension: 0, clip: 0,
});
const BAND = (hi: P[], lo: P[], color: string) => [
  L(hi, color, 1.6),
  { ...L(lo, color, 1.6), fill: '-1' },
];
const dashed = (c: number) => ({
  data: [{ x: c, y: Y_MIN }, { x: c, y: Y_MAX }], borderColor: '#000', borderWidth: 2,
  borderDash: [8, 5], pointRadius: 0, fill: false, clip: 0,
});

const framePlugin = {
  id: 'frame',
  afterDraw(chart: any) {
    const { ctx, chartArea } = chart;
    const { left, top, right, bottom } = chartArea;
    ctx.save();
    ctx.strokeStyle = '#000';
    ctx.lineWidth = 2;
    ctx.strokeRect(left, top, right - left, bottom - top);
    ctx.restore();
  },
};

const noPad = (s: any) => { s.paddingTop = 0; s.paddingBottom = 0; s.paddingLeft = 0; s.paddingRight = 0; };

function panelConfig(datasets: any[], xMin: number, xMax: number, xTitle: string, withY: boolean) {
  return {
    type: 'line',
    data: { datasets },
    plugins: [framePlugin],
    options: {
      animation: false, responsive: false, devicePixelRatio: 1, events: [],
      layout: { autoPadding: false, padding: { top: 2, right: 2, left: withY ? 0 : 2, bottom: 0 } },
      plugins: { legend: { display: false }, tooltip: { enabled: false } },
      scales: {
        x: {
          type: 'linear', min: xMin, max: xMax,
          grid: { display: false, drawTicks: false }, border: { display: false },
          ticks: { display: false },
          title: { display: true, text: xTitle, font: { family: FONT, size: 18 }, color: '#111', padding: 0 },
          afterFit: (s: any) => { s.height = 24; noPad(s); },
        },
        y: {
          type: 'linear', min: Y_MIN, max: Y_MAX, display: withY,
          afterBuildTicks: (s: any) => { s.ticks = Y_TICKS.map((v) => ({ value: v })); },
          grid: { display: true, drawOnChartArea: false, drawTicks: true, tickLength: 6, color: '#000', lineWidth: 1.5 },
          border: { display: false },
          ticks: { font: { family: FONT, size: 18 }, color: '#111', padding: 5, callback: (v: any) => String(v) },
          afterFit: (s: any) => { s.width = withY ? 40 : 0; noPad(s); },
        },
      },
    },
  };
}

function makeSquare(fill: string) {
  const c = document.createElement('canvas');
  c.width = 32; c.height = 32;
  const ctx = c.getContext('2d')!;
  const x = 2.5, y = 2.5, w = 27, h = 27, r = 5;
  ctx.beginPath();
  ctx.moveTo(x + r, y);
  ctx.arcTo(x + w, y, x + w, y + h, r);
  ctx.arcTo(x + w, y + h, x, y + h, r);
  ctx.arcTo(x, y + h, x, y, r);
  ctx.arcTo(x, y, x + w, y, r);
  ctx.closePath();
  ctx.fillStyle = fill;
  ctx.fill();
  ctx.lineWidth = 2;
  ctx.strokeStyle = '#1a1a1a';
  ctx.stroke();
  return c;
}

function cells(kind: string) {
  const out: { x: number; y: number }[] = [];
  [REP1, REP2, REP3].forEach((rep, ci) => rep.forEach((k, ri) => { if (k === kind) out.push({ x: ci + 1, y: ri + 1 }); }));
  return out;
}

function gridConfig() {
  const grey = makeSquare('#c0c0c0');
  const mag = makeSquare('#ab12a6');
  return {
    type: 'scatter',
    data: {
      datasets: [
        { data: cells('g'), pointStyle: grey, pointRadius: 14 },
        { data: cells('m'), pointStyle: mag, pointRadius: 14 },
        { data: cells('x'), pointStyle: 'crossRot', pointRadius: 14, borderColor: '#111', borderWidth: 2, backgroundColor: '#111' },
      ],
    },
    options: {
      animation: false, responsive: false, devicePixelRatio: 1, events: [],
      layout: { autoPadding: false, padding: 0 },
      plugins: { legend: { display: false }, tooltip: { enabled: false } },
      scales: {
        x: {
          type: 'linear', position: 'top', min: 0, max: 4,
          afterBuildTicks: (s: any) => { s.ticks = [1, 2, 3].map((v) => ({ value: v })); },
          ticks: { autoSkip: false, minRotation: 68, maxRotation: 68, padding: -6, labelOffset: 11, font: { family: FONT, size: 25 }, color: '#111',
            callback: (v: any) => REP_LABELS[Number(v) - 1] },
          grid: { display: false, drawTicks: false }, border: { display: false },
          afterFit: (s: any) => { s.height = 70; noPad(s); },
        },
        y: {
          type: 'linear', reverse: true, min: 0.5, max: 16.5,
          afterBuildTicks: (s: any) => { s.ticks = ROWS.map((_, i) => ({ value: i + 1 })); },
          ticks: { autoSkip: false, padding: 10, font: { family: FONT, size: 27 }, color: '#111',
            callback: (v: any) => ROWS[Number(v) - 1] },
          grid: { display: false, drawTicks: false }, border: { display: false },
          afterFit: (s: any) => { s.width = 110; noPad(s); },
        },
      },
    },
  };
}

function ChartBox({ left, top, width, height, make }: { left: number; top: number; width: number; height: number; make: () => any }) {
  const ref = useRef<HTMLCanvasElement>(null);
  useEffect(() => {
    const chart = new Chart(ref.current as HTMLCanvasElement, make());
    return () => chart.destroy();
  }, []);
  return <canvas ref={ref} width={width} height={height} style={{ position: 'absolute', left, top, width, height }} />;
}

// ---------- dataset lists ----------
const aLeft = () => [
  L(A_pink3, PINK), L(A_green3, GREEN), L(A_pink4, PINK), L(A_pink5, ORCHID), L(A_ygreen, YGREEN),
  L(A_small1, CYAN), L(A_small2, GOLD), L(A_small3, PURPLE), L(A_small4, '#4cc07a'), L(A_small5, ORANGE), L(A_small6, TEAL),
  L(A_blue2, BLUE), L(A_gold2, GOLD), L(A_purple2, PURPLE), L(A_orange2, ORANGE), L(A_red2, RED), L(A_teal2, TEAL), L(A_cyan2, CYAN),
  L(A_red1, RED), L(A_orange1, ORANGE), L(A_green2, '#6bd13e'),
  L(A_pink1, PINK), L(A_green1, GREEN), L(A_blue1, BLUE), L(A_purple1, PURPLE), L(A_orchid1, ORCHID), L(A_teal1, TEAL), L(A_gold1, GOLD),
];
const aRight = () => [L(A_R_pink, PINK, 4), L(A_R_green, GREEN, 4), ...CYCLE_MARKS.map(dashed)];

const bLeft = () => [
  L(B_orange3, ORANGE), L(B_cyan3, CYAN), L(B_blue3, '#4a6ad8'), L(B_orange4, ORANGE),
  L(B_r1, GREEN), L(B_r2, YGREEN), L(B_r3, '#d04a9a'), L(B_r4, TEAL),
  ...BAND(B_purpleBandHi, B_purpleBandLo, BPURPLE), L(B_purpleTail, BPURPLE),
  ...BAND(B_crimsonBandHi, B_crimsonBandLo, CRIMSON), L(B_crimsonTail, CRIMSON),
  L(B_crimson1, CRIMSON), L(B_crimson2, CRIMSON), L(B_purple2, BPURPLE),
  L(B_cyan2, CYAN), L(B_blue2, '#4a80d8'), L(B_teal2, TEAL), L(B_gold2, '#d4b040'),
  L(B_lime, LIME), L(B_orchid1, ORCHID), L(B_orchid2, '#cc4fc9'), L(B_gold, GOLD),
  L(B_green, '#48c44a'), L(B_red1, '#d44a55'), L(B_teal1, TEAL), L(B_blue1, '#4a70d8'),
  L(B_cyan1, '#3aa8d8'), L(B_e1, GOLD), L(B_e2, GREEN), L(B_e3, CRIMSON), L(B_e4, PURPLE),
];
const bRight = () => [L(B_R_purple, '#6a4fd6', 4), L(B_R_crimson, '#cf4b72', 4), ...CYCLE_MARKS.map(dashed)];

const cLeft = () => [
  ...BAND(C_pinkBandHi, C_pinkBandLo, CPINK),
  ...BAND(C_goldBandHi, C_goldBandLo, CGOLD), L(C_goldLead, CGOLD),
  L(C_blue, '#4a70d8'), L(C_cyan, '#3ac8d8'), L(C_purple2, '#7a4cd4'), L(C_pink2, CRIMSON), L(C_orange2, GOLD), L(C_teal, TEAL),
  L(C_crimson, CRIMSON), L(C_orange, '#d8803a'),
  ...BAND(C_purpleBandHi, C_purpleBandLo, DORCHID), L(C_purpleTail, DORCHID),
  L(C_e1, BLUE), L(C_e2, GREEN), L(C_e3, YGREEN),
];
const cRight = () => [L(C_R_pink, '#d052c6', 4), L(C_R_gold, CGOLD, 4), ...CYCLE_MARKS.map(dashed)];

const BOX_TOPS = [67, 420, 772];

const titleStyle = (left: number, top: number, size: number, color: string): React.CSSProperties => ({
  position: 'absolute', left, top, fontFamily: FONT, fontWeight: 'bold', fontSize: size, lineHeight: 1,
  color, whiteSpace: 'nowrap', margin: 0,
});

export default function App() {
  return (
    <div style={{ position: 'fixed', left: 0, top: 0, width: 1291, height: 1073, overflow: 'hidden', background: '#fff' }}>
      <div style={{ position: 'absolute', left: 8, top: 8, width: 1330, height: 1130, border: '1.5px solid #8a8a8a', borderRadius: 10 }} />

      <div style={titleStyle(97, 24.5, 36, '#7f7f7f')}>A) No coexistence</div>
      <div style={titleStyle(92, 375.5, 36, MAG)}>B) Quasi-stable coexistence</div>
      <div style={titleStyle(91.5, 730.5, 36, MAG)}>C) Balanced polymorphism<span style={{ fontWeight: 'normal' }}>)</span></div>
      <div style={titleStyle(950, 26, 36, '#151515')}>D) All replicates</div>

      <div style={{ position: 'absolute', left: 43, top: 573, transform: 'translate(-50%, -50%) rotate(-90deg)',
        fontFamily: FONT, fontSize: 34, lineHeight: 1, whiteSpace: 'nowrap', color: '#111' }}>Lineage marker frequency</div>

      <ChartBox left={49} top={BOX_TOPS[0] - 2} width={463} height={303} make={() => panelConfig(aLeft(), T_MIN, T_MAX, 'Time (800 serial transfers)', true)} />
      <ChartBox left={508} top={BOX_TOPS[0] - 2} width={426} height={303} make={() => panelConfig(aRight(), C_MIN, C_MAX, '(last 3 cycles)', false)} />
      <ChartBox left={49} top={BOX_TOPS[1] - 2} width={463} height={303} make={() => panelConfig(bLeft(), T_MIN, T_MAX, 'Time (800 serial transfers)', true)} />
      <ChartBox left={508} top={BOX_TOPS[1] - 2} width={426} height={303} make={() => panelConfig(bRight(), C_MIN, C_MAX, '(3 cycles during coexistence)', false)} />
      <ChartBox left={49} top={BOX_TOPS[2] - 2} width={463} height={303} make={() => panelConfig(cLeft(), T_MIN, T_MAX, 'Time (800 serial transfers)', true)} />
      <ChartBox left={508} top={BOX_TOPS[2] - 2} width={426} height={303} make={() => panelConfig(cRight(), C_MIN, C_MAX, '(last 3 cycles)', false)} />

      <ChartBox left={958} top={73} width={328} height={1008} make={gridConfig} />
    </div>
  );
}
